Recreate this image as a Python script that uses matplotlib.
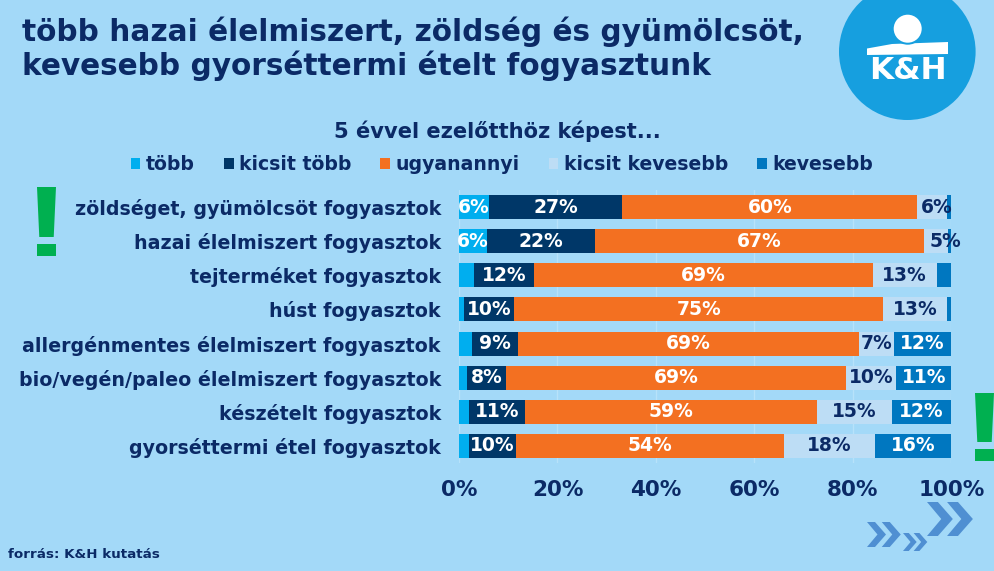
#!/usr/bin/env python
# -*- coding: utf-8 -*-
"""K&H survey chart: food consumption compared to 5 years ago"""
import matplotlib
matplotlib.use('Agg')
import matplotlib.pyplot as plt
from matplotlib.patches import Circle, Polygon

categories = ['zöldséget, gyümölcsöt fogyasztok', 'hazai élelmiszert fogyasztok',
              'tejterméket fogyasztok', 'húst fogyasztok',
              'allergénmentes élelmiszert fogyasztok',
              'bio/vegén/paleo élelmiszert fogyasztok',
              'készételt fogyasztok', 'gyorséttermi étel fogyasztok']
tobb = [6.0, 5.6, 3.1, 1.0, 2.6, 1.6, 2.0, 2.0]
kicsit_tobb = [27.2, 22.0, 12.2, 10.2, 9.3, 8.0, 11.4, 9.6]
ugyanannyi = [59.9, 66.9, 68.7, 75.0, 69.4, 69.1, 59.4, 54.4]
kicsit_kevesebb = [6.1, 4.9, 13.1, 13.0, 7.0, 10.1, 15.1, 18.4]
kevesebb = [0.8, 0.6, 2.9, 0.8, 11.7, 11.2, 12.1, 15.6]
series_names = ['több', 'kicsit több', 'ugyanannyi', 'kicsit kevesebb', 'kevesebb']
xticks = [0, 20, 40, 60, 80, 100]

bg = '#A3D9F8'
navy = '#0B2A66'
colors = ['#00AEEF', '#003768', '#F37021', '#BDDDF5', '#0077C0']
label_colors = ['white', 'white', 'white', navy, 'white']
# labels that sit off centre in the original
nudge = {(0, 3): 0.8, (1, 3): 1.8}
min_label = 4.5  # thinner segments get no label

plt.rcParams['font.family'] = ['DejaVu Sans']
plt.rcParams['font.weight'] = 'bold'

fig = plt.figure(figsize=(9.95, 5.71), dpi=100, facecolor=bg)
ax = fig.add_axes([459 / 995, 1 - 463 / 571, 492.3 / 995, 273 / 571], facecolor=bg)

ypos = list(range(len(categories)))
left = [0.0] * len(categories)
handles = []
for i, vals in enumerate([tobb, kicsit_tobb, ugyanannyi, kicsit_kevesebb, kevesebb]):
    bars = ax.barh(ypos, vals, left=left, height=0.7, color=colors[i],
                   label=series_names[i], zorder=2)
    handles.append(bars)
    for j, v in enumerate(vals):
        if v >= min_label:
            ax.text(left[j] + v / 2 + nudge.get((j, i), 0), j, '%d%%' % round(v),
                    ha='center', va='center', color=label_colors[i],
                    fontsize=13.5, zorder=3)
    left = [a + b for a, b in zip(left, vals)]

ax.set_xlim(0, 100)
ax.set_ylim(len(categories) - 0.5, -0.5)
ax.set_yticks(ypos)
ax.set_yticklabels(categories, color=navy, fontsize=13.7)
ax.set_xticks(xticks)
ax.set_xticklabels(['%d%%' % t for t in xticks], color=navy, fontsize=15.5)
ax.tick_params(axis='both', length=0)
ax.tick_params(axis='y', pad=13)
ax.tick_params(axis='x', pad=12)
ax.grid(axis='x', color='#B7E2FA', linewidth=1, zorder=1)
for sp in ax.spines.values():
    sp.set_visible(False)

fig.legend(handles=handles, loc='center', bbox_to_anchor=(502 / 995, 1 - 165 / 571),
           ncol=5, frameon=False, fontsize=13.6, labelcolor=navy, handlelength=0.52,
           handleheight=0.52, handletextpad=0.3, columnspacing=1.52)

fig.text(22 / 995, 1 - 32 / 571, 'több hazai élelmiszert, zöldség és gyümölcsöt,',
         fontsize=21.3, color=navy, ha='left', va='center')
fig.text(22 / 995, 1 - 66 / 571, 'kevesebb gyorséttermi ételt fogyasztunk',
         fontsize=21.3, color=navy, ha='left', va='center')
fig.text(497 / 995, 1 - 131 / 571, '5 évvel ezelőtthöz képest...', fontsize=15.1,
         color=navy, ha='center', va='center')
fig.text(8 / 995, 1 - 555 / 571, 'forrás: K&H kutatás', fontsize=9.7, color=navy,
         ha='left', va='center')

# overlay in pixel coordinates for the logo and decorations
deco = fig.add_axes([0, 0, 1, 1], facecolor='none')
deco.set_xlim(0, 995)
deco.set_ylim(571, 0)
deco.axis('off')

# logo
logo_blue = '#169FDF'
deco.add_patch(Circle((907.3, 51.7), 68.3, color=logo_blue, lw=0))
deco.add_patch(Polygon([(867, 48.5), (892, 44), (948, 42), (948, 54), (867, 55)],
                       color='white', lw=0))
deco.add_patch(Circle((907.7, 28.7), 16, color=logo_blue, lw=0))
deco.add_patch(Circle((907.7, 28.7), 14, color='white', lw=0))
deco.text(907.5, 70.5, 'K&H', color='white', fontsize=22.5, fontweight='heavy',
          ha='center', va='center')


def add_exclamation(x0, x1, top, taper_end, dot_top, dot_bottom):
    green = '#00B050'
    w = x1 - x0
    deco.add_patch(Polygon([(x0, top), (x1, top), (x1 - 0.12 * w, taper_end),
                            (x0 + 0.12 * w, taper_end)], color=green, lw=0))
    deco.add_patch(Polygon([(x0, dot_top), (x1, dot_top), (x1, dot_bottom),
                            (x0, dot_bottom)], color=green, lw=0))


add_exclamation(37, 56, 187, 237, 244, 256)
add_exclamation(975, 994, 393, 442, 449, 461)


def add_chevrons(x, y, h):
    """two chevrons, x/y is the top left corner and h the height"""
    for off in (0, 0.59 * h):
        pts = [(0, 0), (0.32, 0), (0.76, 0.5), (0.32, 1), (0, 1), (0.42, 0.5)]
        deco.add_patch(Polygon([(x + off + a * h, y + b * h) for a, b in pts],
                               color='#4F8FD2', lw=0))


add_chevrons(927, 502, 34)
add_chevrons(867, 522, 25)
add_chevrons(903, 533, 18)

fig.savefig('out.png', dpi=100, facecolor=bg)
